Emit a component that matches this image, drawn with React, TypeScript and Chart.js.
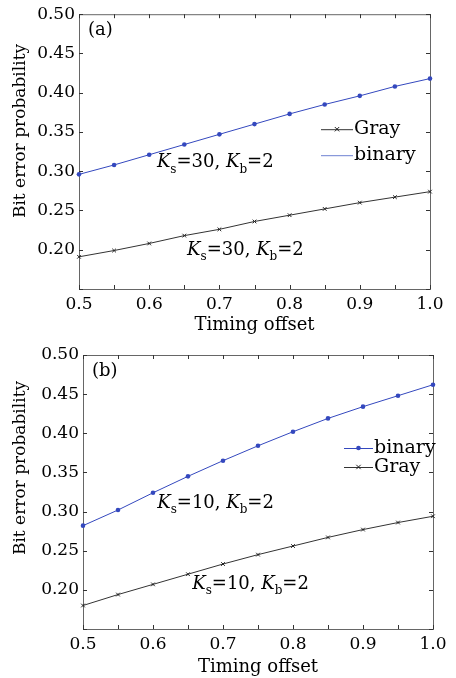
import React, { useEffect, useRef } from "react";
import { Chart, registerables } from "chart.js";
Chart.register(...registerables);

const FONT = "DejaVu Serif";

const offsets = [0.5, 0.55, 0.6, 0.65, 0.7, 0.75, 0.8, 0.85, 0.9, 0.95, 1.0];
const binaryA = [0.296, 0.308, 0.321, 0.334, 0.347, 0.36, 0.373, 0.385, 0.396, 0.408, 0.418];
const grayA = [0.191, 0.199, 0.208, 0.218, 0.226, 0.236, 0.244, 0.252, 0.26, 0.267, 0.274];
const binaryB = [0.282, 0.302, 0.324, 0.345, 0.365, 0.384, 0.402, 0.419, 0.434, 0.448, 0.462];
const grayB = [0.18, 0.194, 0.207, 0.22, 0.233, 0.245, 0.256, 0.267, 0.277, 0.286, 0.294];

const BLUE = "rgb(52,72,190)";
const DARK = "#333";
const TEXT = "#000";
const Y_TITLE = "Bit error probability";

type Panel = {
  tag: string;
  binary: number[];
  gray: number[];
  ks: string;
  legend: { name: string; color: string; marker: string | null }[];
  legendPos: { dx: number; dy: number; gap: number; len: number };
  ann: { x: number; y: number }[];
  padTop: number;
  padRight: number;
  yWidth: number;
  xHeight: number;
  titlePad: number;
  yTitleCenter: number;
};

const panels: Panel[] = [
  {
    tag: "(a)",
    binary: binaryA,
    gray: grayA,
    ks: "30",
    legend: [
      { name: "Gray", color: DARK, marker: "x" },
      { name: "binary", color: "rgb(110,130,210)", marker: null },
    ],
    legendPos: { dx: 242, dy: 115, gap: 26, len: 32 },
    ann: [
      { x: 0.611, y: 0.311 },
      { x: 0.654, y: 0.1995 },
    ],
    padTop: 13,
    padRight: 26,
    yWidth: 79,
    xHeight: 50,
    titlePad: 3,
    yTitleCenter: 131,
  },
  {
    tag: "(b)",
    binary: binaryB,
    gray: grayB,
    ks: "10",
    legend: [
      { name: "binary", color: BLUE, marker: "dot" },
      { name: "Gray", color: DARK, marker: "x" },
    ],
    legendPos: { dx: 261, dy: 93, gap: 19, len: 29 },
    ann: [
      { x: 0.606, y: 0.311 },
      { x: 0.656, y: 0.2075 },
    ],
    padTop: 16,
    padRight: 23,
    yWidth: 83,
    xHeight: 49,
    titlePad: 0,
    yTitleCenter: 129,
  },
];

function drawCross(ctx: CanvasRenderingContext2D, x: number, y: number, r: number, color: string) {
  ctx.save();
  ctx.strokeStyle = color;
  ctx.lineWidth = 1;
  ctx.beginPath();
  ctx.moveTo(x - r, y - r);
  ctx.lineTo(x + r, y + r);
  ctx.moveTo(x - r, y + r);
  ctx.lineTo(x + r, y - r);
  ctx.stroke();
  ctx.restore();
}

function makePlugins(p: Panel) {
  const frame = {
    id: "frame",
    beforeDatasetsDraw(chart: any) {
      const { ctx, chartArea: a, scales } = chart;
      ctx.save();
      ctx.strokeStyle = "#666";
      ctx.lineWidth = 1;
      ctx.strokeRect(a.left + 0.5, a.top + 0.5, a.right - a.left, a.bottom - a.top);
      ctx.strokeStyle = "#333";
      const L = 4;
      ctx.beginPath();
      scales.x.ticks.forEach((t: any) => {
        const px = Math.round(scales.x.getPixelForValue(t.value)) + 0.5;
        ctx.moveTo(px, a.bottom);
        ctx.lineTo(px, a.bottom - L);
        ctx.moveTo(px, a.top);
        ctx.lineTo(px, a.top + L);
      });
      scales.y.ticks.forEach((t: any) => {
        const py = Math.round(scales.y.getPixelForValue(t.value)) + 0.5;
        ctx.moveTo(a.left, py);
        ctx.lineTo(a.left + L, py);
        ctx.moveTo(a.right, py);
        ctx.lineTo(a.right - L, py);
      });
      ctx.stroke();
      ctx.restore();
    },
  };
  const extras = {
    id: "extras",
    afterDraw(chart: any) {
      const { ctx, chartArea: a, scales } = chart;
      ctx.save();
      ctx.fillStyle = TEXT;
      ctx.textBaseline = "middle";
      ctx.textAlign = "left";
      // y-axis title
      ctx.save();
      ctx.translate(21, p.yTitleCenter);
      ctx.rotate(-Math.PI / 2);
      ctx.textAlign = "center";
      ctx.font = `17px ${FONT}`;
      ctx.fillText(Y_TITLE, 0, 0);
      ctx.restore();
      // panel tag
      ctx.font = `18px ${FONT}`;
      ctx.fillText(p.tag, a.left + 9, a.top + 16);
      // legend
      const lp = p.legendPos;
      p.legend.forEach((e, i) => {
        const y = a.top + lp.dy + i * lp.gap;
        const x0 = a.left + lp.dx;
        ctx.strokeStyle = e.color;
        ctx.lineWidth = 1;
        ctx.beginPath();
        ctx.moveTo(x0, y + 0.5);
        ctx.lineTo(x0 + lp.len, y + 0.5);
        ctx.stroke();
        const mx = x0 + lp.len / 2;
        if (e.marker === "x") drawCross(ctx, mx, y, 2.2, "#222");
        if (e.marker === "dot") {
          ctx.fillStyle = e.color;
          ctx.beginPath();
          ctx.arc(mx, y, 2.3, 0, Math.PI * 2);
          ctx.fill();
        }
        ctx.fillStyle = TEXT;
        ctx.font = `19px ${FONT}`;
        ctx.fillText(e.name, x0 + lp.len + 1, y);
      });
      // annotations
      p.ann.forEach((an) => {
        let x = scales.x.getPixelForValue(an.x);
        const y = scales.y.getPixelForValue(an.y);
        const parts: [string, string, number][] = [
          ["K", `italic 18px ${FONT}`, 0],
          ["s", `12px ${FONT}`, 7],
          [`=${p.ks}, `, `18px ${FONT}`, 0],
          ["K", `italic 18px ${FONT}`, 0],
          ["b", `12px ${FONT}`, 7],
          ["=2", `18px ${FONT}`, 0],
        ];
        parts.forEach(([s, f, dy]) => {
          ctx.font = f;
          ctx.fillText(s, x, y + dy);
          x += ctx.measureText(s).width;
        });
      });
      ctx.restore();
    },
  };
  return [frame, extras];
}

function PanelChart({ p }: { p: Panel }) {
  const ref = useRef<HTMLCanvasElement>(null);
  useEffect(() => {
    if (!ref.current) return;
    const chart = new Chart(ref.current, {
      type: "line",
      data: {
        datasets: [
          {
            label: "binary",
            data: offsets.map((x, i) => ({ x, y: p.binary[i] })),
            borderColor: BLUE,
            backgroundColor: BLUE,
            borderWidth: 1,
            pointStyle: "circle",
            pointRadius: 2.3,
            pointBorderWidth: 0,
            tension: 0,
            clip: false as any,
          },
          {
            label: "Gray",
            data: offsets.map((x, i) => ({ x, y: p.gray[i] })),
            borderColor: DARK,
            backgroundColor: "#222",
            borderWidth: 1,
            pointStyle: "crossRot",
            pointRadius: 2.6,
            pointBorderColor: "#222",
            pointBorderWidth: 1,
            tension: 0,
            clip: false as any,
          },
        ],
      },
      options: {
        responsive: false,
        animation: false,
        layout: { padding: { left: 0, top: p.padTop, right: p.padRight, bottom: 0 } },
        plugins: { legend: { display: false }, tooltip: { enabled: false } },
        scales: {
          x: {
            type: "linear",
            min: 0.5,
            max: 1.0,
            grid: { display: false, drawTicks: false },
            border: { display: false },
            afterFit: (s: any) => {
              s.height = p.xHeight;
            },
            ticks: {
              stepSize: 0.05,
              autoSkip: false,
              maxRotation: 0,
              padding: 5,
              color: TEXT,
              font: { family: FONT, size: 17 },
              callback: (v: any) => {
                const r = Math.round(Number(v) * 100);
                return r % 10 === 0 ? (r / 100).toFixed(1) : "";
              },
            },
            title: {
              display: true,
              text: "Timing offset",
              color: TEXT,
              font: { family: FONT, size: 18 },
              padding: { top: 0, bottom: p.titlePad },
            },
          },
          y: {
            type: "linear",
            min: 0.15,
            max: 0.5,
            grid: { display: false, drawTicks: false },
            border: { display: false },
            afterFit: (s: any) => {
              s.width = p.yWidth;
            },
            ticks: {
              stepSize: 0.05,
              autoSkip: false,
              padding: 4,
              color: TEXT,
              font: { family: FONT, size: 17 },
              callback: (v: any) => (Number(v) < 0.175 ? "" : Number(v).toFixed(2)),
            },
          },
        },
      },
      plugins: makePlugins(p) as any,
    } as any);
    return () => chart.destroy();
  }, [p]);
  return <canvas ref={ref} width={456} height={339} style={{ display: "block" }} />;
}

export default function App() {
  return (
    <div style={{ position: "absolute", left: 0, top: 0, width: 456, height: 678, background: "#fff" }}>
      <PanelChart p={panels[0]} />
      <PanelChart p={panels[1]} />
    </div>
  );
}
